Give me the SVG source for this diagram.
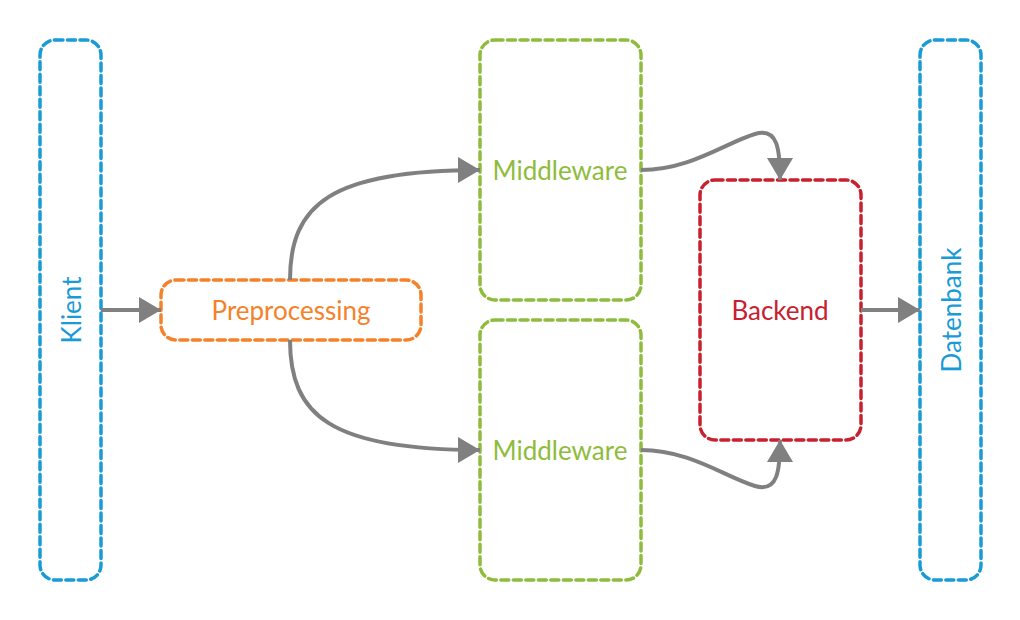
<svg xmlns="http://www.w3.org/2000/svg" width="1020" height="620" viewBox="0 0 1020 620">
<style>
.box{fill:#fff;stroke-width:3.5;stroke-dasharray:8 4.5;stroke-linecap:round;}
.blue{stroke:#1a9bd8;}
.orange{stroke:#f5822a;}
.green{stroke:#8fbc3c;}
.red{stroke:#c7212f;}
.lbl{font-family:Lato,"Liberation Sans",sans-serif;font-size:26px;text-anchor:middle;dominant-baseline:central;}
.conn{fill:none;stroke:#808080;stroke-width:4;}
</style>
<defs>
<marker id="arr" markerUnits="userSpaceOnUse" markerWidth="24" markerHeight="28" refX="22" refY="14" orient="auto">
<path d="M0,1 L22,14 L0,27 Z" fill="#808080"/>
</marker>
</defs>
<g id="klient">
<rect class="box blue" x="40" y="40" width="61" height="540" rx="15"/>
<text class="lbl" fill="#1a9bd8" transform="translate(71,310) rotate(-90)">Klient</text>
</g>
<g id="preprocessing">
<rect class="box orange" x="161" y="280" width="260" height="60" rx="15"/>
<text class="lbl" fill="#f5822a" x="291" y="310">Preprocessing</text>
</g>
<g id="middleware1">
<rect class="box green" x="480" y="40" width="161" height="260" rx="15"/>
<text class="lbl" fill="#8fbc3c" x="560" y="170">Middleware</text>
</g>
<g id="middleware2">
<rect class="box green" x="480" y="320" width="161" height="260" rx="15"/>
<text class="lbl" fill="#8fbc3c" x="560" y="450">Middleware</text>
</g>
<g id="backend">
<rect class="box red" x="700" y="180" width="161" height="260" rx="15"/>
<text class="lbl" fill="#c7212f" x="780" y="310">Backend</text>
</g>
<g id="datenbank">
<rect class="box blue" x="920" y="40" width="61" height="540" rx="15"/>
<text class="lbl" fill="#1a9bd8" transform="translate(951,310) rotate(-90)">Datenbank</text>
</g>
<g id="connectors">
<path class="conn" marker-end="url(#arr)" d="M101,310 L161,310"/>
<path class="conn" marker-end="url(#arr)" d="M290,280 C290,205 330,170 480,170"/>
<path class="conn" marker-end="url(#arr)" d="M290,340 C290,415 330,450 480,450"/>
<path class="conn" marker-end="url(#arr)" d="M641,170 C690,170 725,143 755,134 C778,127 780,150 780,180"/>
<path class="conn" marker-end="url(#arr)" d="M641,450 C690,450 725,477 755,486 C778,493 780,470 780,440"/>
<path class="conn" marker-end="url(#arr)" d="M861,310 L920,310"/>
</g>
</svg>
